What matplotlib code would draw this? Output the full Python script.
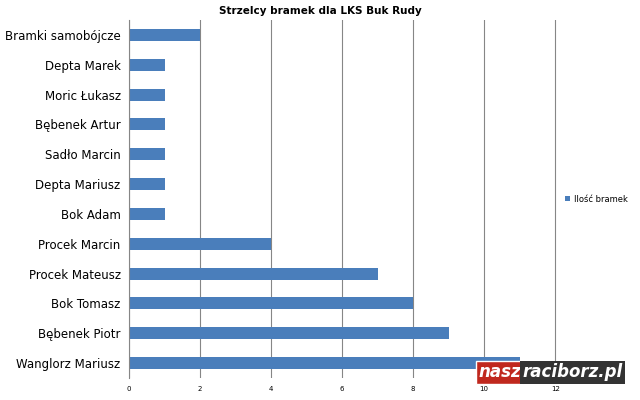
import matplotlib.pyplot as plt

names = ["Bramki samobójcze", "Depta Marek", "Moric Łukasz", "Bębenek Artur", "Sadło Marcin",
         "Depta Mariusz", "Bok Adam", "Procek Marcin", "Procek Mateusz", "Bok Tomasz",
         "Bębenek Piotr", "Wanglorz Mariusz"]
goals = [2, 1, 1, 1, 1, 1, 1, 4, 7, 8, 9, 11]
ticks = [0, 2, 4, 6, 8, 10, 12]

fig = plt.figure(figsize=(6.4, 4.0), dpi=100)
ax = fig.add_axes([129/640, 22/400, 428/640, 358/400])
y = list(range(len(names)))
ax.barh(y, goals, height=0.4, color="#4a7ebb", label="Ilość bramek", zorder=2)
ax.set_ylim(len(names) - 0.5, -0.5)
ax.set_yticks(y)
ax.set_yticklabels(names, fontsize=8.5)
ax.set_xlim(0, 12.05)
ax.set_xticks(ticks)
ax.set_xticklabels([str(t) for t in ticks], fontsize=5)
ax.grid(axis="x", color="#868686", linewidth=0.8, zorder=0)
for s in ["top", "right", "bottom"]:
    ax.spines[s].set_visible(False)
ax.spines["left"].set_color("#868686")
ax.tick_params(length=0, pad=6)
fig.suptitle("Strzelcy bramek dla LKS Buk Rudy", fontsize=7.5, fontweight="bold", y=0.985)
ax.legend(loc="center left", bbox_to_anchor=(1.01, 0.5), frameon=False, fontsize=6,
          handlelength=0.6, handleheight=0.6, handletextpad=0.5, borderaxespad=0)

# logo overlay
fig.text(478/640, 1 - 372/400, "nasz", fontsize=12, fontweight="bold", style="italic", color="white",
         va="center", bbox=dict(boxstyle="square,pad=0.15", fc="#c0281e", ec="white"))
fig.text(522/640, 1 - 372/400, "raciborz.pl", fontsize=12, fontweight="bold", style="italic",
         color="white", va="center", bbox=dict(boxstyle="square,pad=0.15", fc="#333333", ec="none"))
fig.savefig("out.png", dpi=100)
